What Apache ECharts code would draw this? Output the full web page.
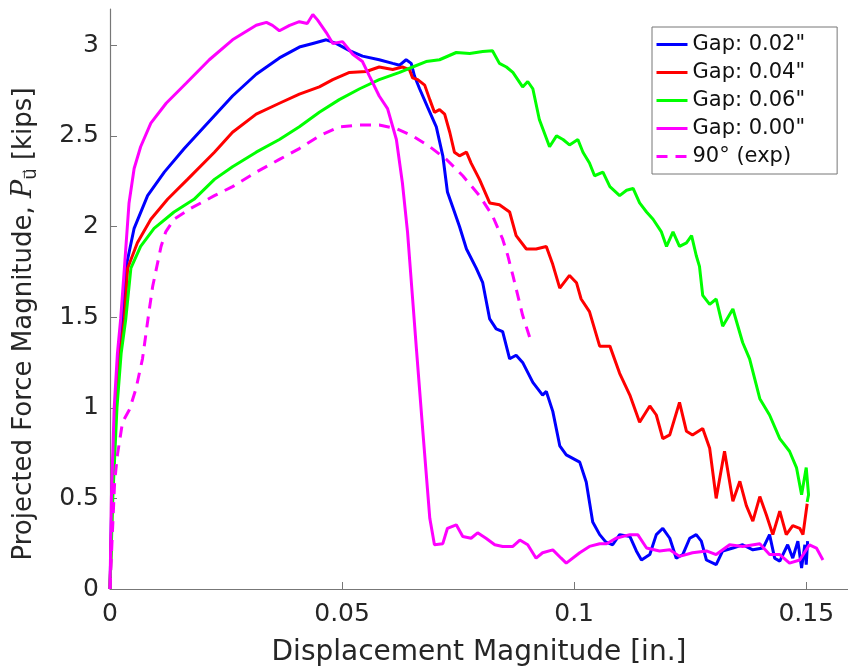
<!DOCTYPE html>
<html><head><meta charset="utf-8">
<script src="https://cdn.jsdelivr.net/npm/echarts@6/dist/echarts.min.js"></script>
<style>html,body{margin:0;padding:0;background:#fff}#c{width:848px;height:672px}</style>
</head><body><div id="c"></div>
<script>
const xTicks = [0, 0.05, 0.1, 0.15];
const yTicks = [0, 0.5, 1, 1.5, 2, 2.5, 3];
const seriesNames = ['Gap: 0.02"', 'Gap: 0.04"', 'Gap: 0.06"', 'Gap: 0.00"', '90° (exp)'];
const seriesColors = ['#0000ff', '#ff0000', '#00ff00', '#ff00ff', '#ff00ff'];

const gap002 = [[0,0],[0.0004,0.5],[0.0011,1.0],[0.0019,1.3],[0.0027,1.49],[0.0034,1.77],[0.0052,1.99],[0.0081,2.17],[0.0117,2.30],[0.016,2.43],[0.021,2.57],[0.0264,2.72],[0.0315,2.84],[0.0365,2.93],[0.0408,2.99],[0.0437,3.01],[0.0466,3.03],[0.0487,3.01],[0.0516,2.97],[0.0544,2.94],[0.058,2.92],[0.0609,2.90],[0.0624,2.89],[0.0638,2.92],[0.0649,2.90],[0.0656,2.83],[0.0667,2.76],[0.0684,2.66],[0.0703,2.55],[0.0717,2.39],[0.0727,2.19],[0.0738,2.11],[0.0753,2.0],[0.0768,1.876],[0.0789,1.77],[0.0803,1.69],[0.0818,1.49],[0.0832,1.435],[0.0846,1.42],[0.0861,1.27],[0.0875,1.29],[0.0889,1.25],[0.0911,1.14],[0.0932,1.07],[0.094,1.09],[0.0954,0.98],[0.0969,0.79],[0.0983,0.74],[0.1012,0.70],[0.1026,0.59],[0.104,0.37],[0.1055,0.30],[0.1068,0.26],[0.1083,0.244],[0.1098,0.30],[0.112,0.29],[0.1134,0.21],[0.1145,0.16],[0.1163,0.19],[0.1177,0.30],[0.1191,0.335],[0.1206,0.28],[0.122,0.17],[0.1234,0.19],[0.1249,0.28],[0.1263,0.30],[0.1274,0.264],[0.1285,0.16],[0.1306,0.134],[0.132,0.21],[0.1342,0.226],[0.1363,0.244],[0.1385,0.216],[0.1407,0.226],[0.1421,0.30],[0.1432,0.17],[0.1443,0.154],[0.146,0.244],[0.1471,0.17],[0.1482,0.264],[0.149,0.115],[0.1497,0.244],[0.15,0.134],[0.1503,0.264]];

const gap004 = [[0,0],[0.0005,0.5],[0.0013,1.0],[0.0022,1.3],[0.0031,1.49],[0.0038,1.77],[0.0059,1.91],[0.0088,2.04],[0.0124,2.15],[0.0167,2.26],[0.0225,2.41],[0.0264,2.52],[0.0315,2.62],[0.0365,2.68],[0.0408,2.73],[0.0451,2.77],[0.048,2.81],[0.0516,2.85],[0.0552,2.855],[0.058,2.88],[0.0609,2.866],[0.063,2.88],[0.0645,2.866],[0.0652,2.82],[0.0663,2.81],[0.0678,2.78],[0.0689,2.70],[0.0699,2.63],[0.071,2.645],[0.0721,2.62],[0.0732,2.52],[0.0742,2.41],[0.0753,2.39],[0.0768,2.41],[0.0778,2.35],[0.0796,2.26],[0.0818,2.13],[0.0839,2.12],[0.0861,2.08],[0.0875,1.95],[0.0897,1.876],[0.0918,1.876],[0.094,1.89],[0.0954,1.79],[0.0969,1.66],[0.099,1.73],[0.1005,1.69],[0.1015,1.60],[0.1033,1.53],[0.1055,1.34],[0.1077,1.34],[0.1098,1.19],[0.112,1.07],[0.1141,0.92],[0.1163,1.01],[0.1177,0.96],[0.1191,0.83],[0.1206,0.85],[0.1227,1.03],[0.1242,0.87],[0.1255,0.85],[0.1277,0.885],[0.1292,0.776],[0.1306,0.50],[0.1324,0.76],[0.1342,0.484],[0.1357,0.594],[0.1371,0.46],[0.1385,0.374],[0.14,0.51],[0.1414,0.41],[0.1428,0.30],[0.1443,0.43],[0.1457,0.30],[0.1471,0.35],[0.1486,0.335],[0.1493,0.30],[0.1502,0.47]];

const gap006 = [[0,0],[0.0006,0.5],[0.0015,1.0],[0.0024,1.3],[0.0034,1.49],[0.0045,1.77],[0.0066,1.89],[0.0095,1.99],[0.0138,2.08],[0.0181,2.15],[0.0225,2.26],[0.0264,2.33],[0.0315,2.41],[0.0365,2.48],[0.0408,2.55],[0.0451,2.63],[0.0494,2.70],[0.0538,2.76],[0.058,2.81],[0.0624,2.85],[0.0652,2.88],[0.0681,2.91],[0.071,2.92],[0.0746,2.96],[0.0775,2.955],[0.0803,2.965],[0.0824,2.97],[0.0839,2.90],[0.0854,2.88],[0.0868,2.85],[0.0889,2.77],[0.09,2.80],[0.0911,2.76],[0.0925,2.59],[0.0947,2.44],[0.0962,2.50],[0.0976,2.48],[0.099,2.45],[0.1008,2.48],[0.1019,2.41],[0.1033,2.35],[0.1044,2.28],[0.1062,2.30],[0.1077,2.22],[0.1098,2.17],[0.1113,2.20],[0.1127,2.21],[0.1141,2.13],[0.1156,2.08],[0.117,2.04],[0.1188,1.97],[0.1199,1.89],[0.1213,1.97],[0.1227,1.89],[0.1242,1.91],[0.1253,1.95],[0.1263,1.84],[0.127,1.78],[0.1277,1.62],[0.1292,1.57],[0.1306,1.60],[0.132,1.45],[0.1342,1.545],[0.1363,1.36],[0.1378,1.27],[0.14,1.05],[0.1421,0.96],[0.1443,0.83],[0.1464,0.76],[0.1479,0.67],[0.149,0.52],[0.15,0.67],[0.1505,0.52],[0.1502,0.48]];

const gap000 = [[0,0],[0.0003,0.5],[0.0009,1.0],[0.0016,1.3],[0.0023,1.49],[0.0031,1.77],[0.0041,2.13],[0.0052,2.32],[0.0066,2.44],[0.0088,2.57],[0.0121,2.68],[0.0164,2.79],[0.0214,2.92],[0.0264,3.03],[0.0315,3.11],[0.0337,3.126],[0.035,3.11],[0.0365,3.08],[0.0387,3.11],[0.0408,3.13],[0.0425,3.12],[0.0437,3.17],[0.0447,3.14],[0.0451,3.15],[0.0466,3.07],[0.048,3.01],[0.0501,3.02],[0.0523,2.95],[0.0544,2.91],[0.0559,2.83],[0.058,2.72],[0.0598,2.65],[0.0617,2.48],[0.063,2.24],[0.0641,1.97],[0.0652,1.60],[0.066,1.33],[0.0674,0.87],[0.0689,0.39],[0.0699,0.244],[0.0717,0.25],[0.0727,0.335],[0.0746,0.354],[0.076,0.29],[0.0778,0.28],[0.0792,0.31],[0.081,0.28],[0.0829,0.244],[0.0846,0.235],[0.0868,0.235],[0.0883,0.27],[0.09,0.244],[0.0918,0.17],[0.0932,0.2],[0.0954,0.216],[0.0972,0.17],[0.0983,0.143],[0.1012,0.2],[0.1033,0.235],[0.1055,0.25],[0.107,0.25],[0.109,0.28],[0.112,0.30],[0.1137,0.30],[0.1156,0.226],[0.1184,0.21],[0.1206,0.216],[0.1227,0.18],[0.1255,0.2],[0.1285,0.21],[0.1306,0.19],[0.1335,0.244],[0.1363,0.235],[0.14,0.25],[0.1421,0.19],[0.1443,0.19],[0.1464,0.143],[0.1486,0.16],[0.1507,0.244],[0.1522,0.226],[0.1536,0.16]];

const exp90 = [[0,0],[0.0005,0.3],[0.001,0.59],[0.0016,0.74],[0.0027,0.92],[0.0042,0.99],[0.0056,1.105],[0.007,1.27],[0.0084,1.53],[0.0092,1.67],[0.011,1.89],[0.012,1.97],[0.0138,2.04],[0.0174,2.10],[0.0225,2.17],[0.0264,2.22],[0.0315,2.30],[0.0365,2.37],[0.0408,2.43],[0.0451,2.50],[0.0494,2.55],[0.0538,2.56],[0.058,2.56],[0.0617,2.54],[0.0652,2.50],[0.0689,2.44],[0.0725,2.37],[0.076,2.28],[0.0796,2.17],[0.0824,2.06],[0.0846,1.93],[0.0857,1.84],[0.0868,1.73],[0.0889,1.51],[0.0904,1.39]];

const seriesData = [gap002, gap004, gap006, gap000, exp90];

const FONT = 'DejaVu Sans';
const fmt = v => String(+v.toFixed(2));

const chart = echarts.init(document.getElementById('c'), null, {renderer: 'canvas'});
chart.setOption({
  animation: false,
  backgroundColor: '#ffffff',
  textStyle: {fontFamily: FONT},
  grid: {left: 110, right: 0, top: 9, bottom: 81, containLabel: false},
  xAxis: {
    type: 'value', min: 0, max: 0.159, interval: 0.05,
    name: 'Displacement Magnitude [in.]', nameLocation: 'middle', nameGap: 50,
    nameTextStyle: {fontFamily: FONT, fontSize: 28, color: '#262626'},
    axisLine: {onZero: false, lineStyle: {color: '#777', width: 1.2}},
    axisTick: {inside: true, length: 7, lineStyle: {color: '#777'}, customValues: xTicks},
    axisLabel: {fontFamily: FONT, fontSize: 25, color: '#262626', margin: 13, formatter: fmt, customValues: xTicks},
    splitLine: {show: false}
  },
  yAxis: {
    type: 'value', min: 0, max: 3.2, interval: 0.5,
    name: 'Projected Force Magnitude, {it|P}{sub|u\u20d7} [kips]', nameLocation: 'middle', nameGap: 70,
    nameTextStyle: {fontFamily: FONT, fontSize: 26, color: '#262626', padding: [0, 50, 0, 0],
      rich: {
        it: {fontFamily: 'DejaVu Serif', fontStyle: 'italic', fontSize: 27, color: '#262626'},
        sub: {fontFamily: 'DejaVu Sans', fontSize: 18, color: '#262626', padding: [14, 0, 0, 0]}
      }},
    axisLine: {onZero: false, lineStyle: {color: '#777', width: 1.2}},
    axisTick: {inside: true, length: 7, lineStyle: {color: '#777'}, customValues: yTicks},
    axisLabel: {fontFamily: FONT, fontSize: 25, color: '#262626', margin: 11, formatter: fmt, customValues: yTicks},
    splitLine: {show: false}
  },
  legend: {
    orient: 'vertical', left: 652, top: 27,
    data: seriesNames,
    itemWidth: 31, itemHeight: 14, itemGap: 7,
    padding: [7, 32, 7, 3],
    borderColor: '#777', borderWidth: 1, backgroundColor: '#fff',
    itemStyle: {opacity: 0},
    lineStyle: {width: 3},
    textStyle: {fontFamily: FONT, fontSize: 21, color: '#111', lineHeight: 21}
  },
  series: seriesNames.map((n, i) => ({
    name: n, type: 'line', data: seriesData[i], symbol: 'none', showSymbol: false,
    color: seriesColors[i],
    lineStyle: {color: seriesColors[i], width: 3, type: i === 4 ? [11, 8] : 'solid'},
    z: 2 + i
  }))
});
</script>
</body></html>
